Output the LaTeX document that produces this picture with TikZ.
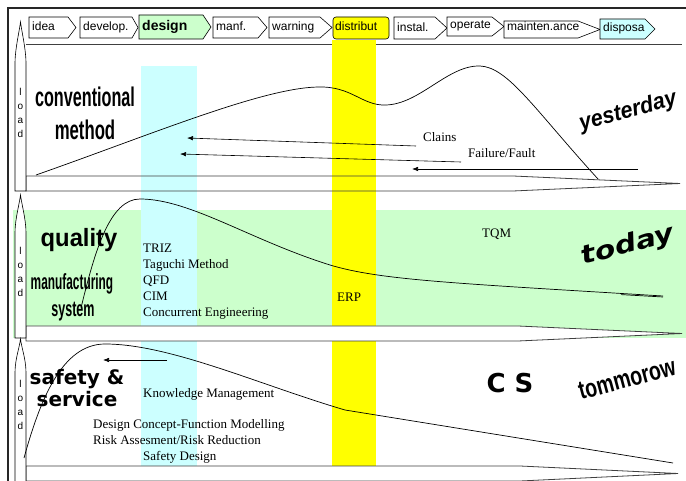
\documentclass[tikz,border=0pt]{standalone}
\usepackage{graphicx}
\usepackage{fontspec}
\setmainfont{Liberation Serif}
\setsansfont{Liberation Sans}
\newfontfamily\heavysans{DejaVu Sans}
\usetikzlibrary{arrows.meta}

\definecolor{bandcyan}{HTML}{CCFFFF}
\definecolor{bandgreen}{HTML}{CCFFCC}
\definecolor{bandyellow}{HTML}{FFFF00}

\tikzset{
  frameline/.style={draw=black!85, line width=1.2pt},
  axisline/.style={draw=black!75, line width=0.8pt},
  lifecurve/.style={line width=0.7pt, black},
  pointer/.style={line width=0.6pt, -{Latex[length=6pt,width=4.5pt]}},
  stageframe/.style={draw=black, line width=0.6pt},
  stagelabel/.style={font=\sffamily\fontsize{12}{12}\selectfont, anchor=base west, inner sep=0pt},
  toollabel/.style={font=\rmfamily\fontsize{13}{13}\selectfont, anchor=base west, inner sep=0pt},
  loadlabel/.style={font=\sffamily\fontsize{10}{13.8}\selectfont, align=center, inner sep=0pt},
  narrowhead/.style={font=\sffamily\bfseries, anchor=base, inner sep=0pt},
  widehead/.style={font=\heavysans\bfseries, anchor=base, inner sep=0pt},
  eralabel/.style={inner sep=0pt, rotate=15},
}

% one stage of the product life cycle: name, left x, shoulder x, tip x, top y, bottom y, fill, label
\newcommand\lifestage[8]{%
  \path[stageframe, fill=#7] (#2,#5) -- (#3,#5) -- (#4,{(#5+#6)/2}) -- (#3,#6) -- (#2,#6) -- cycle;
  \node[stagelabel] (#1) at ({#2+3},{#6-7}) {#8};
}
% upright "load" pointer: tip y, shoulder y, bottom y
\newcommand\loadpointer[3]{%
  \path[draw=black, fill=white, line width=0.6pt]
    (15,#3) -- (15,#2) .. controls (15.3,{#2-14}) and (19.2,{#1+10}) .. (20.5,#1)
    .. controls (21.8,{#1+10}) and (25.7,{#2-14}) .. (26,#2) -- (26,#3) -- cycle;
}
% time axis arrow: top y, bottom y, bend x, tip x, extra options
\newcommand\timeaxis[5]{%
  \path[axisline, #5] (26,#1) -- (#3,#1) -- (#4,{(#1+#2)/2}) -- (#3,#2) -- (26,#2) -- cycle;
}

\begin{document}
\begin{tikzpicture}[x=1pt,y=-1pt]
\useasboundingbox[fill=white] (0,0) rectangle (686,481);

% backgrounds
\fill[bandgreen] (13,210) rectangle (686,338);
\path[axisline] (26,44) -- (682,44);
\fill[bandcyan] (141,66) rectangle (197,481);
\fill[bandyellow] (332,40) rectangle (376,481);

% time axes
\timeaxis{176}{191}{513}{680}{}
\timeaxis{326}{341}{518}{682}{fill=white}
\timeaxis{466}{481}{520}{678}{fill=white}

% outer frame
\path[frameline] (8,481) -- (8,8) -- (686,8);

% life-cycle stages
\lifestage{idea}{29}{68}{76}{17}{38}{white}{idea}
\lifestage{develop}{80}{132}{138}{17}{38}{white}{develop.}
\path[stageframe, fill=bandgreen] (139,15) -- (203,15) -- (211,27) -- (203,39) -- (139,39) -- cycle;
\node[stagelabel, font=\sffamily\bfseries\fontsize{14}{14}\selectfont] (design) at (142,31) {design};
\lifestage{manf}{213}{258}{267}{17}{38}{white}{manf.}
\lifestage{warning}{269}{320}{332}{17}{38}{white}{warning}
\path[stageframe, fill=bandyellow, rounded corners=3pt] (333,17) rectangle (389,39);
\node[stagelabel] (distribut) at (335,31) {distribut};
\lifestage{instal}{394}{435}{447}{17}{39}{white}{instal.}
\lifestage{operate}{447}{492}{504}{17}{36}{white}{operate}
\lifestage{mainten}{504}{578}{600}{21}{38}{white}{mainten.ance}
\lifestage{disposa}{600}{645}{655}{19}{39}{bandcyan}{disposa}

% load pointers
\loadpointer{22}{62}{191}
\loadpointer{195}{232}{338}
\loadpointer{339}{372}{490}
\node[loadlabel] (load1) at (20.5,113) {l\\o\\a\\d};
\node[loadlabel] (load2) at (20.5,272) {l\\o\\a\\d};
\node[loadlabel] (load3) at (20.5,405) {l\\o\\a\\d};

% ---- yesterday ----
\draw[lifecurve] (36,175) .. controls (150,135) and (262,88) .. (318,87)
  .. controls (352,86) and (362,106) .. (386,105)
  .. controls (420,104) and (448,65) .. (480,66)
  .. controls (508,67) and (535,110) .. (598,179);
\node[narrowhead, font=\sffamily\bfseries\fontsize{27}{27}\selectfont] (conv) at (85,107) {\scalebox{0.6}[1]{conventional}};
\node[narrowhead, font=\sffamily\bfseries\fontsize{27}{27}\selectfont] (meth) at (85,140) {\scalebox{0.62}[1]{method}};
\node[toollabel] (clains) at (423,142) {Clains};
\node[toollabel] (fault) at (468,158) {Failure/Fault};
\coordinate (clainsTip) at (187,138);
\coordinate (faultTip) at (180,154);
\coordinate (returnStart) at (638,169);
\coordinate (returnTip) at (412,169);
\draw[pointer] ([xshift=-7pt,yshift=-4pt]clains.base west) -- (clainsTip);
\draw[pointer] ([xshift=-7pt,yshift=-4pt]fault.base west) -- (faultTip);
\draw[pointer] (returnStart) -- (returnTip);
\node[eralabel, font=\sffamily\bfseries\itshape\fontsize{23}{23}\selectfont] (yesterday) at (628,112) {\scalebox{0.93}[1]{yesterday}};

% ---- today ----
\draw[lifecurve] (81,308) .. controls (95,250) and (110,199) .. (140,199)
  .. controls (190,199) and (250,240) .. (330,265)
  .. controls (380,280) and (450,283) .. (663,296);
\draw[lifecurve] (621,294.6) -- (663,297);
\node[narrowhead, font=\sffamily\bfseries\fontsize{25}{25}\selectfont] (quality) at (79,247) {\scalebox{0.95}[1]{quality}};
\node[narrowhead, font=\sffamily\bfseries\fontsize{22}{22}\selectfont] (manu) at (72,290) {\scalebox{0.54}[1]{manufacturing}};
\node[narrowhead, font=\sffamily\bfseries\fontsize{22}{22}\selectfont] (system) at (73,317) {\scalebox{0.57}[1]{system}};
\node[toollabel] (triz) at (143,253) {TRIZ};
\node[toollabel] (taguchi) at (143,269) {Taguchi Method};
\node[toollabel] (qfd) at (143,285) {QFD};
\node[toollabel] (cim) at (143,301) {CIM};
\node[toollabel] (ce) at (143,317) {Concurrent Engineering};
\node[toollabel] (tqm) at (482,238) {TQM};
\node[toollabel] (erp) at (337,302) {ERP};
\node[eralabel, font=\heavysans\bfseries\itshape\fontsize{25}{25}\selectfont] (today) at (628,246) {\scalebox{1.2}[1]{today}};

% ---- tomorrow ----
\draw[lifecurve] (24,458) .. controls (40,400) and (62,344) .. (105,344)
  .. controls (170,344) and (260,385) .. (345,410)
  -- (673,463);
\coordinate (kmStart) at (167,360);
\coordinate (kmTip) at (103,360);
\draw[pointer] (kmStart) -- (kmTip);
\node[widehead, font=\heavysans\bfseries\fontsize{20}{20}\selectfont] (safety) at (77,384) {safety \&};
\node[widehead, font=\heavysans\bfseries\fontsize{20}{20}\selectfont] (service) at (77,406) {service};
\node[toollabel] (km) at (143,397) {Knowledge Management};
\node[toollabel] (dcfm) at (93,428) {Design Concept-Function Modelling};
\node[toollabel] (risk) at (93,444) {Risk Assesment/Risk Reduction};
\node[toollabel] (sd) at (143,460) {Safety Design};
\node[widehead, font=\heavysans\bfseries\fontsize{26}{26}\selectfont] (cs) at (510,392) {C\hspace{9pt}S};
\node[eralabel, font=\sffamily\bfseries\fontsize{26}{26}\selectfont] (tomorrow) at (627,379) {\scalebox{0.75}[1]{tommorow}};
\end{tikzpicture}
\end{document}
